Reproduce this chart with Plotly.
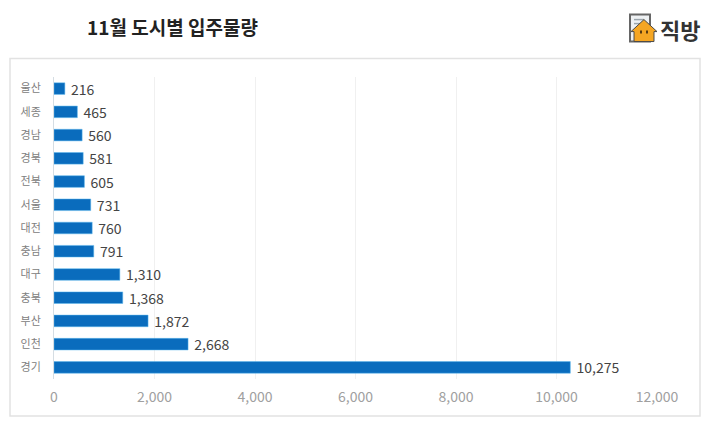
import plotly.graph_objects as go

FONT = "Noto Sans CJK KR"

cities = ["울산", "세종", "경남", "경북", "전북", "서울", "대전", "충남", "대구", "충북", "부산", "인천", "경기"]
volumes = [216, 465, 560, 581, 605, 731, 760, 791, 1310, 1368, 1872, 2668, 10275]
x_ticks = [0, 2000, 4000, 6000, 8000, 10000, 12000]

W, H = 710, 427
L, R, T, B = 54, 657, 76.5, 379


def px(x):
    return (x - L) / (R - L)


def py(y):
    return (B - y) / (B - T)


def path(points):
    return "M " + " L ".join(f"{px(x):.4f},{py(y):.4f}" for x, y in points) + " Z"


fig = go.Figure(go.Bar(
    y=cities,
    x=volumes,
    orientation="h",
    marker=dict(color="#0a6cbd", line=dict(color="#5cb8ee", width=0.5)),
    # leading nbsp: the reference sets its labels further off the bar ends
    text=[f"\u00a0{v:,}" for v in volumes],
    textposition="outside",
    constraintext="none",
    textfont=dict(family=FONT, size=14, color="#444444"),
    cliponaxis=False,
    width=0.5,
))

fig.update_layout(
    width=W,
    height=H,
    margin=dict(l=L, r=W - R, t=T, b=H - B, pad=0),
    paper_bgcolor="white",
    plot_bgcolor="white",
    showlegend=False,
    font=dict(family=FONT),
    xaxis=dict(
        range=[0, 12000],
        tickvals=x_ticks,
        tickformat=",d",
        showgrid=True,
        gridcolor="#f0f0f0",
        gridwidth=1,
        zeroline=False,
        showline=False,
        ticks="",
        ticklabelstandoff=8,
        tickfont=dict(family=FONT, size=14, color="#a0a0a0"),
    ),
    yaxis=dict(
        autorange="reversed",
        showgrid=False,
        zeroline=False,
        showline=True,
        linecolor="#d5dde3",
        linewidth=1,
        ticks="",
        ticklabelstandoff=10,
        tickfont=dict(family=FONT, size=11, color="#808080"),
    ),
    shapes=[
        # panel border
        dict(type="rect", xref="paper", yref="paper", layer="below",
             x0=px(10), x1=px(700), y0=py(416), y1=py(58),
             line=dict(color="#e2e2e2", width=1.5), fillcolor="white"),
        # logo: document
        dict(type="rect", xref="paper", yref="paper",
             x0=px(630), x1=px(650), y0=py(41), y1=py(14),
             line=dict(color="#666666", width=2), fillcolor="#eef1f3"),
        dict(type="line", xref="paper", yref="paper",
             x0=px(634), x1=px(644), y0=py(19), y1=py(19), line=dict(color="#9aa5ad", width=1.5)),
        dict(type="line", xref="paper", yref="paper",
             x0=px(634), x1=px(640), y0=py(23), y1=py(23), line=dict(color="#9aa5ad", width=1.5)),
        # logo: house
        dict(type="path", xref="paper", yref="paper",
             path=path([(634, 41), (634, 31), (631, 31), (644, 19), (657, 31), (654, 31), (654, 41)]),
             line=dict(color="#4a4a4a", width=1), fillcolor="#f5a623"),
        dict(type="rect", xref="paper", yref="paper",
             x0=px(640), x1=px(642), y0=py(33), y1=py(30),
             line=dict(width=0), fillcolor="#5a3a10"),
        dict(type="rect", xref="paper", yref="paper",
             x0=px(646), x1=px(648), y0=py(33), y1=py(30),
             line=dict(width=0), fillcolor="#5a3a10"),
    ],
    annotations=[
        dict(text="<b>11월 도시별 입주물량</b>", xref="paper", yref="paper",
             x=px(85), y=py(26), xanchor="left", yanchor="middle", showarrow=False,
             font=dict(family=FONT, size=19, color="#222222")),
        dict(text="<b>직방</b>", xref="paper", yref="paper",
             x=px(658), y=py(28), xanchor="left", yanchor="middle", showarrow=False,
             font=dict(family=FONT, size=22, color="#333333")),
    ],
)

fig.write_html("out.html", config=dict(displayModeBar=False), post_script="document.body.style.margin='0'")
